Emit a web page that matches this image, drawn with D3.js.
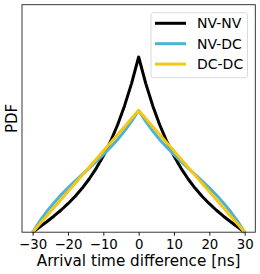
<!DOCTYPE html>
<html>
<head>
<meta charset="utf-8">
<script src="https://cdn.jsdelivr.net/npm/d3@7"></script>
<style>
  body { margin: 0; background: #fff; }
  text { font-family: "DejaVu Sans", sans-serif; fill: #000; }
</style>
</head>
<body>
<svg class="chart"></svg>
<script>
// arrival time difference grid [ns] (one side, mirrored below)
var halfT = [0, 2, 4, 6, 8, 10, 12, 14, 16, 18, 20, 22, 24, 26, 28, 30];
var nvnvHalf = [0.04798, 0.04076, 0.03458, 0.02929, 0.02476, 0.02085, 0.01748, 0.01457,
                0.01202, 0.00978, 0.00780, 0.00601, 0.00438, 0.00286, 0.00141, 0];
var nvdcHalf = [0.03333, 0.03033, 0.02769, 0.02532, 0.02318, 0.02120, 0.01934, 0.01755,
                0.01578, 0.01399, 0.01213, 0.01016, 0.00801, 0.00565, 0.00300, 0];
var dcdcHalf = [0.03333, 0.03111, 0.02889, 0.02667, 0.02444, 0.02222, 0.02000, 0.01778,
                0.01556, 0.01333, 0.01111, 0.00889, 0.00667, 0.00444, 0.00222, 0];
var seriesNames = ["NV-NV", "NV-DC", "DC-DC"];
var seriesColors = ["#000000", "#4eb3d3", "#f5c710"];
var xTicks = [-30, -20, -10, 0, 10, 20, 30];

// curves are symmetric around 0
function mirror(h) {
    return h.slice(1).reverse().concat(h);
}
var tGrid = halfT.slice(1).reverse().map(function (d) { return -d; }).concat(halfT);
var series = [nvnvHalf, nvdcHalf, dcdcHalf].map(function (h, k) {
    var vals = mirror(h);
    return { name: seriesNames[k], color: seriesColors[k],
             values: tGrid.map(function (t, i) { return { t: t, p: vals[i] }; }) };
});

var W = 260, H = 274;
var margin = { top: 4.7, right: 4.7, bottom: 41.8, left: 22 },
    width = W - margin.left - margin.right,
    height = H - margin.top - margin.bottom;

var x = d3.scaleLinear().domain([-33, 33]).range([0, width]);
var y = d3.scaleLinear().domain([0, 0.0623]).range([height, 0]);

var svg = d3.select(".chart").attr("width", W).attr("height", H);
var chart = svg.append("g")
    .attr("transform", "translate(" + margin.left + "," + margin.top + ")");

var line = d3.line()
    .x(function (d) { return x(d.t); })
    .y(function (d) { return y(d.p); });

chart.selectAll(".series")
    .data(series)
    .enter().append("path")
    .attr("class", "series")
    .attr("d", function (d) { return line(d.values); })
    .attr("fill", "none")
    .attr("stroke", function (d) { return d.color; })
    .attr("stroke-width", 3)
    .attr("stroke-linejoin", "round");

// frame
chart.append("rect")
    .attr("width", width).attr("height", height)
    .attr("fill", "none").attr("stroke", "#222").attr("stroke-width", 0.9);

var xAxis = chart.append("g")
    .attr("transform", "translate(0," + height + ")")
    .call(d3.axisBottom(x).tickValues(xTicks).tickSize(3.5).tickPadding(3.5)
        .tickFormat(function (d) { return d < 0 ? "\u2212" + (-d) : d; }));
xAxis.select(".domain").remove();
xAxis.selectAll("line").attr("stroke", "#000").attr("stroke-width", 0.9);
xAxis.selectAll("text").attr("font-size", 13.3).attr("font-family", "DejaVu Sans");

chart.append("text")
    .attr("x", width / 2).attr("y", height + 33.5)
    .attr("text-anchor", "middle").attr("font-size", 15.2)
    .text("Arrival time difference [ns]");

chart.append("text")
    .attr("transform", "translate(" + (-5.5) + "," + (height / 2) + ") rotate(-90)")
    .attr("text-anchor", "middle").attr("font-size", 15)
    .text("PDF");

// legend
var lg = svg.append("g").attr("transform", "translate(151,12.7)");
lg.append("rect")
    .attr("width", 96.5).attr("height", 65)
    .attr("rx", 2.5).attr("fill", "#fff").attr("fill-opacity", 0.8)
    .attr("stroke", "#d6d6d6").attr("stroke-width", 0.9);
var item = lg.selectAll(".item").data(series).enter().append("g")
    .attr("transform", function (d, i) { return "translate(0," + (10.6 + i * 20.4) + ")"; });
item.append("line")
    .attr("x1", 4).attr("x2", 35)
    .attr("stroke", function (d) { return d.color; }).attr("stroke-width", 3);
item.append("text")
    .attr("x", 46).attr("dy", "0.36em").attr("font-size", 14)
    .text(function (d) { return d.name; });
</script>
</body>
</html>
